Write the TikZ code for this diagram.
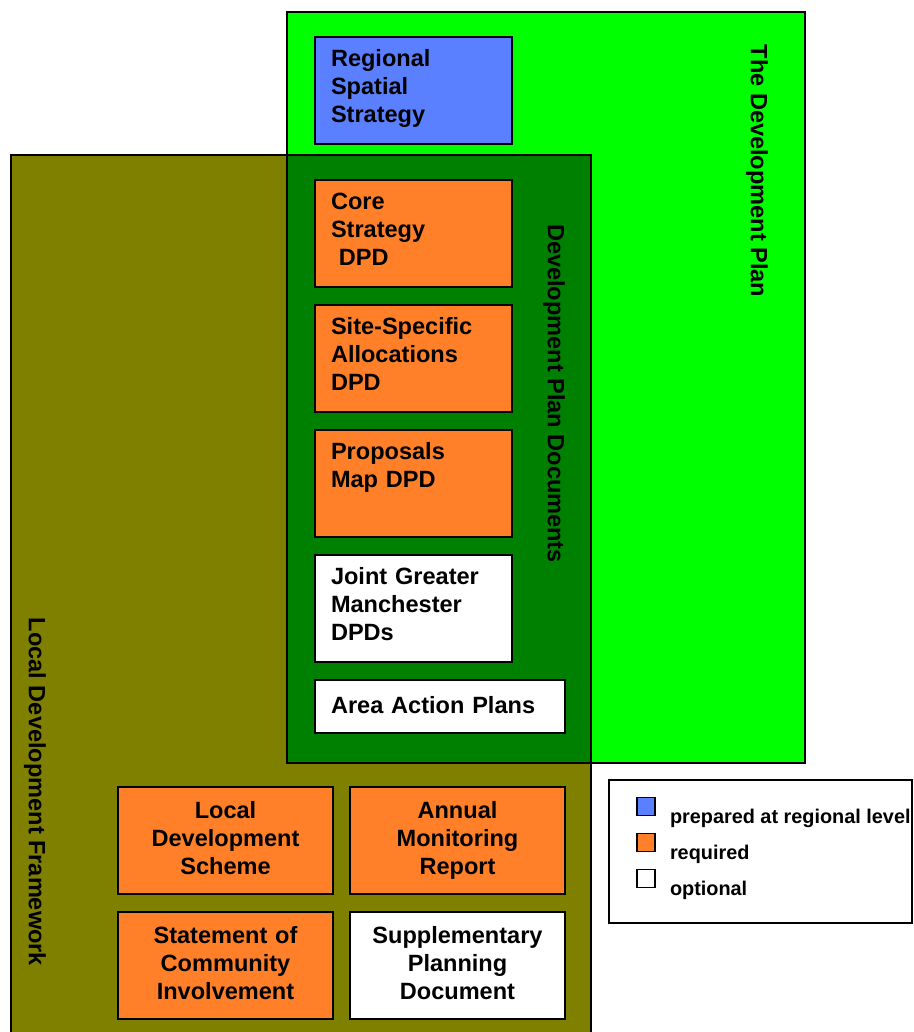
\documentclass[tikz,border=0pt]{standalone}
\usepackage{fontspec}
\setmainfont{Liberation Sans}
\usetikzlibrary{positioning}

\definecolor{plangreen}{RGB}{0,255,0}
\definecolor{dpdgreen}{RGB}{0,128,0}
\definecolor{ldfolive}{RGB}{128,128,0}
\definecolor{regblue}{RGB}{90,128,255}
\definecolor{reqorange}{RGB}{255,128,40}

\tikzset{every node/.style={inner sep=0pt, outer sep=0pt}}
\tikzset{region/.style={draw=black, line width=0.9pt}}
\tikzset{docbox/.style={draw=black, line width=0.9pt, minimum width=3.94cm, minimum height=2.14cm, anchor=north west, font=\fontsize{13.4}{15.9}\selectfont\bfseries}}
\tikzset{topleft/.style={text width=3.30cm, align=left, text height=8.6pt, text depth=35.8pt}}
\tikzset{centred/.style={minimum width=4.30cm, text width=4.0cm, align=center, text height=9.8pt, text depth=35.2pt}}
\tikzset{regbox/.style={docbox, fill=regblue}}
\tikzset{reqbox/.style={docbox, fill=reqorange}}
\tikzset{optbox/.style={docbox, fill=white}}
\tikzset{regionlabel/.style={rotate=-90, font=\fontsize{13.4}{15.9}\selectfont\bfseries}}
\tikzset{legsq/.style={draw=black, line width=0.8pt, minimum size=0.36cm}}
\tikzset{legtext/.style={font=\fontsize{11.3}{13}\selectfont\bfseries, text height=8.2pt, text depth=2.7pt}}

\begin{document}
\begin{tikzpicture}

    \useasboundingbox (0,0) rectangle (18.26,-20.64);
    \clip (0,0) rectangle (18.26,-20.64);

    % the three overlapping areas
    \draw[region, fill=plangreen] (5.74,-0.24) rectangle (16.10,-15.26);
    \draw[region, fill=ldfolive] (0.22,-3.10) rectangle (11.82,-21.00);
    \draw[region, fill=dpdgreen] (5.74,-3.10) rectangle (11.82,-15.26);

    \node[regionlabel] (DevPlanLabel) at (15.14,-3.42) {The Development Plan};
    \node[regionlabel] (DPDLabel) at (11.08,-7.87) {Development Plan Documents};
    \node[regionlabel] (LDFLabel) at (0.70,-15.84) {Local Development Framework};

    % development plan documents
    \node[regbox, topleft] (RSS) at (6.30,-0.74) {Regional\\Spatial\\Strategy};
    \node[reqbox, topleft, below=0.72cm of RSS] (Core) {Core\\Strategy\\\ DPD};
    \node[reqbox, topleft, below=0.36cm of Core] (Site) {Site-Specific\\Allocations\\DPD};
    \node[reqbox, topleft, below=0.36cm of Site] (Prop) {Proposals\\Map DPD};
    \node[optbox, topleft, below=0.36cm of Prop] (Joint) {Joint Greater\\Manchester\\DPDs};
    \node[optbox, below=0.36cm of Joint.south west, anchor=north west, minimum width=5.00cm, minimum height=1.06cm, text width=4.36cm, align=left, text depth=2pt] (AAP) {Area Action Plans};

    % local development framework documents
    \node[reqbox, centred] (LDS) at (2.36,-15.74) {Local\\Development\\Scheme};
    \node[reqbox, centred, right=0.34cm of LDS] (AMR) {Annual\\Monitoring\\Report};
    \node[reqbox, centred, below=0.36cm of LDS] (SCI) {Statement of\\Community\\Involvement};
    \node[optbox, centred, right=0.34cm of SCI] (SPD) {Supplementary\\Planning\\Document};

    % key
    \draw[line width=0.9pt] (12.18,-15.60) rectangle (18.24,-18.46);
    \node[legsq, fill=regblue] (LegReg) at (12.92,-16.13) {};
    \node[legsq, fill=reqorange, below=0.36cm of LegReg] (LegReq) {};
    \node[legsq, fill=white, below=0.36cm of LegReq] (LegOpt) {};
    \node[legtext, right=0.30cm of LegReg, yshift=-0.25cm] (LegRegText) {prepared at regional level};
    \node[legtext, right=0.30cm of LegReq, yshift=-0.25cm] (LegReqText) {required};
    \node[legtext, right=0.30cm of LegOpt, yshift=-0.25cm] (LegOptText) {optional};

\end{tikzpicture}
\end{document}
